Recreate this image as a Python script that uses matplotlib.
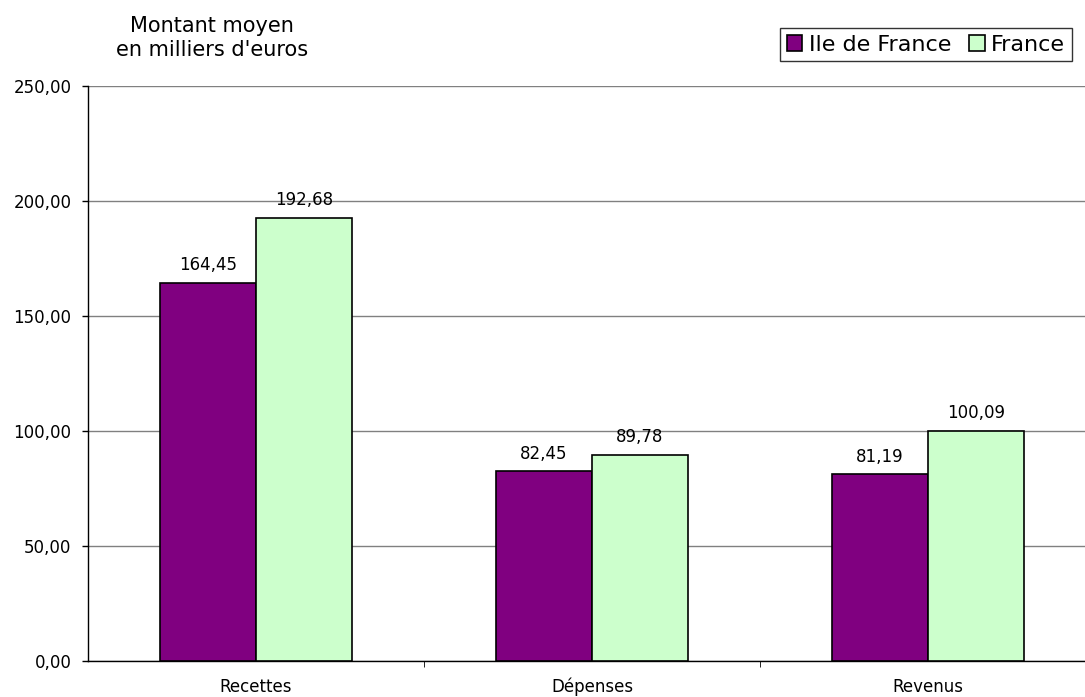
import numpy as np
import matplotlib.pyplot as plt

categories = ["Recettes", "Dépenses", "Revenus"]
idf_values = [164.45, 82.45, 81.19]
france_values = [192.68, 89.78, 100.09]
series_names = ["Ile de France", "France"]
y_ticks = [0, 50, 100, 150, 200, 250]

plt.rcParams['font.family'] = ['DejaVu Sans']

fig = plt.figure(figsize=(10.85, 6.97), dpi=100)
ax = fig.add_axes([88 / 1085, 36 / 697, 1008 / 1085, 575 / 697])

x = np.arange(len(categories))
w = 0.2857
b1 = ax.bar(x - w / 2, idf_values, w, color='#800080', edgecolor='black', linewidth=1.2,
            label=series_names[0], zorder=3)
b2 = ax.bar(x + w / 2, france_values, w, color='#ccffcc', edgecolor='black', linewidth=1.2,
            label=series_names[1], zorder=3)

def fmt(v):
  return f"{v:.2f}".replace('.', ',')

# value labels above bars
for bars, vals in [(b1, idf_values), (b2, france_values)]:
  for r, v in zip(bars, vals):
    ax.annotate(fmt(v), (r.get_x() + r.get_width() / 2, v), xytext=(0, 9),
                textcoords='offset points', ha='center', va='baseline', fontsize=12, zorder=4)

ax.set_xlim(-0.5, len(categories) - 0.5)
ax.set_ylim(0, 250)
ax.set_yticks(y_ticks)
ax.set_yticklabels([fmt(t) for t in y_ticks], fontsize=12)
ax.yaxis.grid(True, color='#808080', linewidth=1.0, zorder=0)
ax.set_axisbelow(True)

ax.set_xticks(x)
ax.set_xticklabels(categories, fontsize=12)
# same baseline for all category labels
for lab in ax.get_xticklabels():
  lab.set_verticalalignment('baseline')
ax.tick_params(axis='x', length=0, pad=22)
ax.set_xticks([0.5, 1.5], minor=True)
ax.tick_params(axis='x', which='minor', length=4, direction='out')
ax.tick_params(axis='y', length=4.5, direction='out', width=1, pad=7.5)

for s in ['top', 'right']:
  ax.spines[s].set_visible(False)
ax.spines['left'].set_linewidth(1.0)
ax.spines['bottom'].set_linewidth(1.0)

fig.text(212 / 1085, 1 - 38 / 697, "Montant moyen\nen milliers d'euros", ha='center', va='center',
         fontsize=15, linespacing=1.2)

leg = fig.legend(handles=[b1, b2], labels=series_names, loc='upper right',
                 bbox_to_anchor=(1072 / 1085, 1 - 28 / 697), ncol=2, fontsize=16,
                 frameon=True, fancybox=False, edgecolor='black', handlelength=0.7,
                 handleheight=0.7, handletextpad=0.3, columnspacing=0.8,
                 borderpad=0.3, borderaxespad=0)
leg.get_frame().set_linewidth(1.0)

fig.savefig("out.png", dpi=100)
